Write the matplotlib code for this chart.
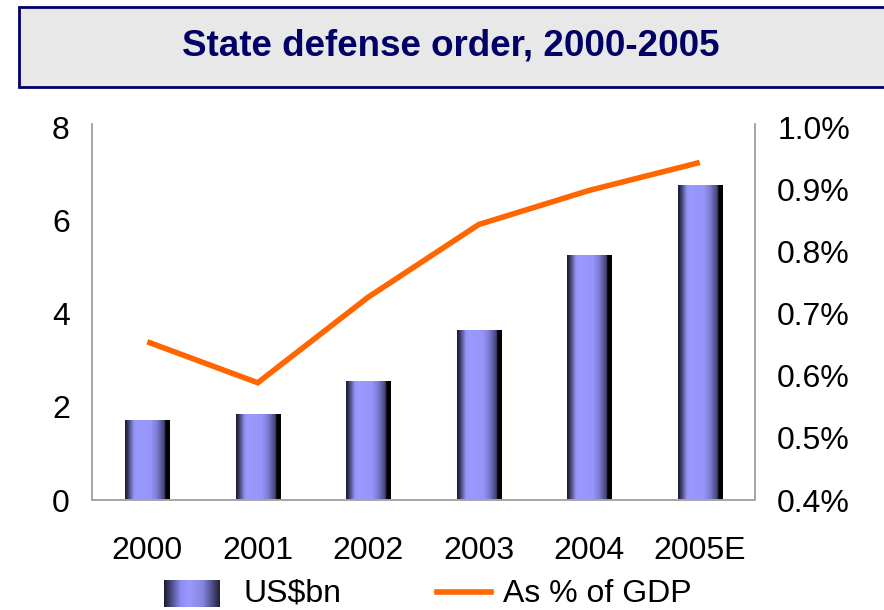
import matplotlib
matplotlib.use("Agg")
import matplotlib.pyplot as plt
import numpy as np
from matplotlib.colors import LinearSegmentedColormap
from matplotlib.patches import Rectangle
from matplotlib.lines import Line2D

plt.rcParams['font.family'] = ['Liberation Sans', 'DejaVu Sans']

years = ["2000", "2001", "2002", "2003", "2004", "2005E"]
usd_bn = [1.71, 1.84, 2.55, 3.66, 5.26, 6.76]
pct_gdp = [0.655, 0.589, 0.727, 0.844, 0.899, 0.944]
left_ticks = [0, 2, 4, 6, 8]
right_ticks = [0.4, 0.5, 0.6, 0.7, 0.8, 0.9, 1.0]

W, H = 884, 610
fig = plt.figure(figsize=(W / 100, H / 100), dpi=100)

# Title box
fig.patches.append(Rectangle((19 / W, 1 - 87 / H), (W - 19 + 5) / W, 80 / H,
                             transform=fig.transFigure, facecolor='#E8E8E8',
                             edgecolor='#000066', linewidth=2.0))
fig.text(451 / W, 1 - 46 / H, "State defense order, 2000-2005", ha='center', va='center',
         fontsize=26.5, fontweight='bold', color='#000066')

ax_l, ax_r, ax_b, ax_t = 92, 755, 500, 124
ax = fig.add_axes([ax_l / W, 1 - ax_b / H, (ax_r - ax_l) / W, (ax_b - ax_t) / H])
ax2 = ax.twinx()

x = np.arange(len(years))
bw = 0.40
cmap = LinearSegmentedColormap.from_list('bar', [
    (0.0, '#1a1a30'), (0.04, '#2a2a48'), (0.20, '#9494f8'), (0.28, '#9999ff'),
    (0.58, '#9595fa'), (0.72, '#7a7ad0'), (0.88, '#404070'), (0.905, '#000000'),
    (1.0, '#000000')])
grad = np.linspace(0, 1, 256).reshape(1, -1)

bars = ax.bar(x, usd_bn, width=bw, color='none', edgecolor='none', zorder=2)
for b in bars:
    bx, by = b.get_x(), b.get_y()
    im = ax.imshow(grad, cmap=cmap, aspect='auto', interpolation='bilinear',
                   extent=[bx, bx + b.get_width(), by, by + b.get_height()], zorder=2)
    im.set_clip_path(b)

ax.set_xlim(-0.5, len(years) - 0.5)
ax.set_ylim(0, 8.08)
ax.set_yticks(left_ticks)
ax.set_xticks(x)
ax.set_xticklabels(years)

ax2.plot(x, pct_gdp, color='#FF6600', linewidth=4.0, solid_capstyle='butt',
         solid_joinstyle='miter', zorder=3)
ax2.set_ylim(0.4, 1.0 + 0.6 * 0.08 / 8)
ax2.set_yticks(right_ticks)
ax2.set_yticklabels([f"{v:.1f}%" for v in right_ticks])

for a in (ax, ax2):
    a.spines['top'].set_visible(False)
    for s in ('left', 'right', 'bottom'):
        a.spines[s].set_color('#A6A6A6')
        a.spines[s].set_linewidth(1.2)
    a.tick_params(length=0, labelsize=23, colors='black')
ax.tick_params(axis='y', pad=16)
ax2.tick_params(axis='y', pad=16)
ax.tick_params(axis='x', pad=26)
ax2.set_zorder(ax.get_zorder() + 1)
ax2.patch.set_visible(False)

# Legend
lax = fig.add_axes([164 / W, 1 - 607 / H, 56 / W, 27 / H])
lcmap = LinearSegmentedColormap.from_list('leg', [
    (0.0, '#1a1a30'), (0.3, '#8c8cf0'), (0.45, '#9999ff'), (0.7, '#8585e0'), (1.0, '#202038')])
lax.imshow(grad, cmap=lcmap, aspect='auto', interpolation='bilinear', extent=[0, 1, 0, 1])
lax.axis('off')
fig.text(243 / W, 1 - 602 / H, "US$bn", ha='left', va='baseline', fontsize=23)
fig.lines.append(Line2D([437 / W, 491 / W], [1 - 592 / H, 1 - 592 / H],
                        transform=fig.transFigure, color='#FF6600', linewidth=4.0))
fig.text(503 / W, 1 - 602 / H, "As % of GDP", ha='left', va='baseline', fontsize=23)

fig.savefig("out.png", dpi=100)
